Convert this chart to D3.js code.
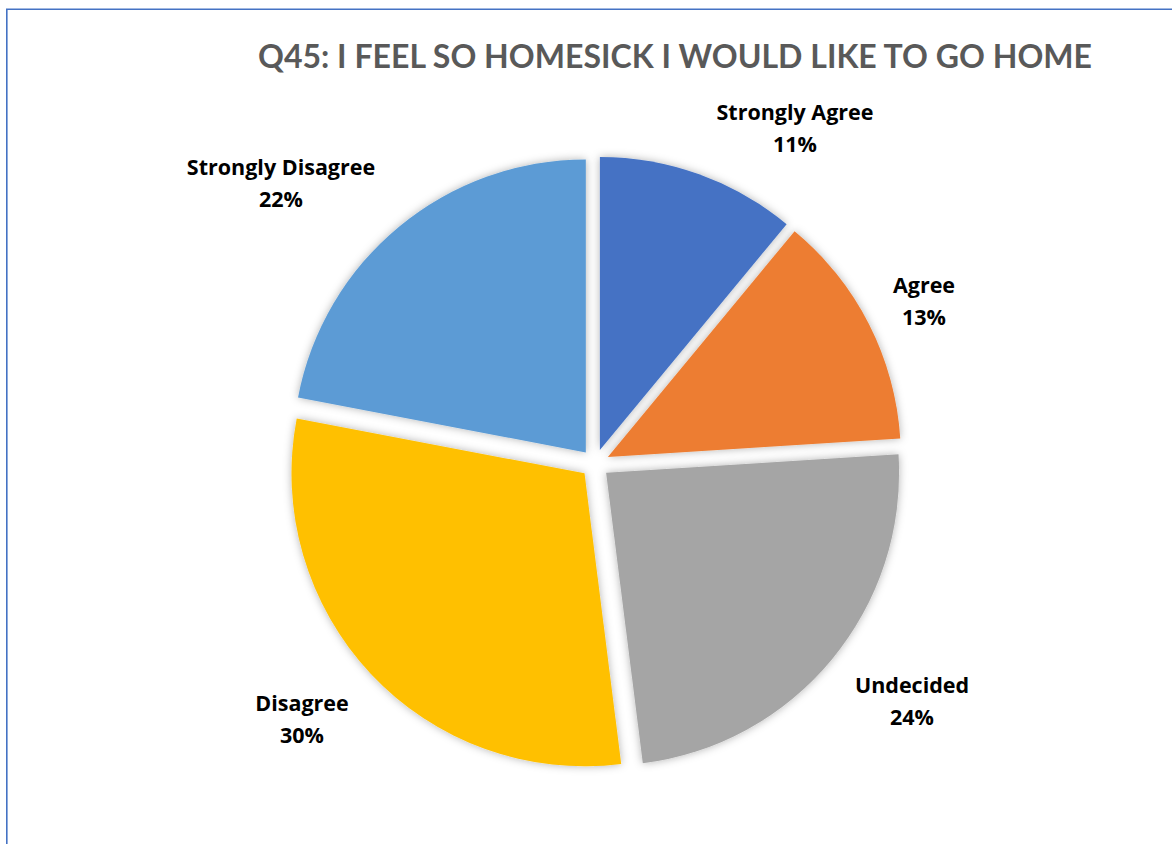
<!DOCTYPE html>
<html>
<head>
<meta charset="utf-8">
<script src="https://cdn.jsdelivr.net/npm/d3@7"></script>
<style>
  html, body { margin: 0; padding: 0; background: #fff; }
  svg { display: block; }
</style>
</head>
<body>
<svg id="chart" width="1172" height="844"></svg>
<script>
// ---- data ----
const title = "Q45: I FEEL SO HOMESICK I WOULD LIKE TO GO HOME";
const categories = ["Strongly Agree", "Agree", "Undecided", "Disagree", "Strongly Disagree"];
const values = [11, 13, 24, 30, 22];
const colors = ["#4472C4", "#ED7D31", "#A5A5A5", "#FFC000", "#5B9BD5"];

// ---- layout ----
const W = 1172, H = 844;
const cx = 595, cy = 463.5, R = 293, explode = 14.4;
// label anchor positions (x center, first baseline)
const labelLayout = [[795, 120], [924, 293], [912, 693], [302, 711], [281, 175]];
const lineGap = 32;

const svg = d3.select("#chart");

// border (top and left)
svg.append("path")
  .attr("d", `M6.8,${H} L6.8,9.3 L${W},9.3`)
  .attr("fill", "none").attr("stroke", "#4472C4").attr("stroke-width", 1.6);

const defs = svg.append("defs");
const f = defs.append("filter").attr("id", "sh")
  .attr("x", "-20%").attr("y", "-20%").attr("width", "140%").attr("height", "140%");
f.append("feDropShadow").attr("dx", 0).attr("dy", 0).attr("stdDeviation", 4)
  .attr("flood-color", "#000").attr("flood-opacity", 0.3);

// title
const t = svg.append("text")
  .attr("x", 675).attr("y", 68)
  .attr("text-anchor", "middle")
  .attr("font-family", "Lato, 'Open Sans', sans-serif")
  .attr("font-weight", "bold").attr("font-size", 33)
  .attr("fill", "#595959")
  .text(title);
t.attr("textLength", 834).attr("lengthAdjust", "spacingAndGlyphs");

// pie
const pie = d3.pie().sort(null).value(d => d)(values);
const arc = d3.arc().innerRadius(0).outerRadius(R);

const g = svg.append("g").attr("transform", `translate(${cx},${cy})`);
g.selectAll("path").data(pie).join("path")
  .attr("d", arc)
  .attr("fill", (d, i) => colors[i])
  .attr("filter", "url(#sh)")
  .attr("transform", d => {
    const a = (d.startAngle + d.endAngle) / 2;
    return `translate(${explode * Math.sin(a)},${-explode * Math.cos(a)})`;
  });

// labels
const total = d3.sum(values);
const lbl = svg.append("g")
  .attr("font-family", "'Open Sans', Lato, sans-serif")
  .attr("font-weight", "bold").attr("font-size", 21.5)
  .attr("fill", "#000").attr("text-anchor", "middle");
categories.forEach((c, i) => {
  const [x, y] = labelLayout[i];
  const txt = lbl.append("text").attr("x", x).attr("y", y);
  txt.append("tspan").attr("x", x).attr("y", y).text(c);
  txt.append("tspan").attr("x", x).attr("y", y + lineGap)
    .text(Math.round(values[i] / total * 100) + "%");
});
</script>
</body>
</html>
